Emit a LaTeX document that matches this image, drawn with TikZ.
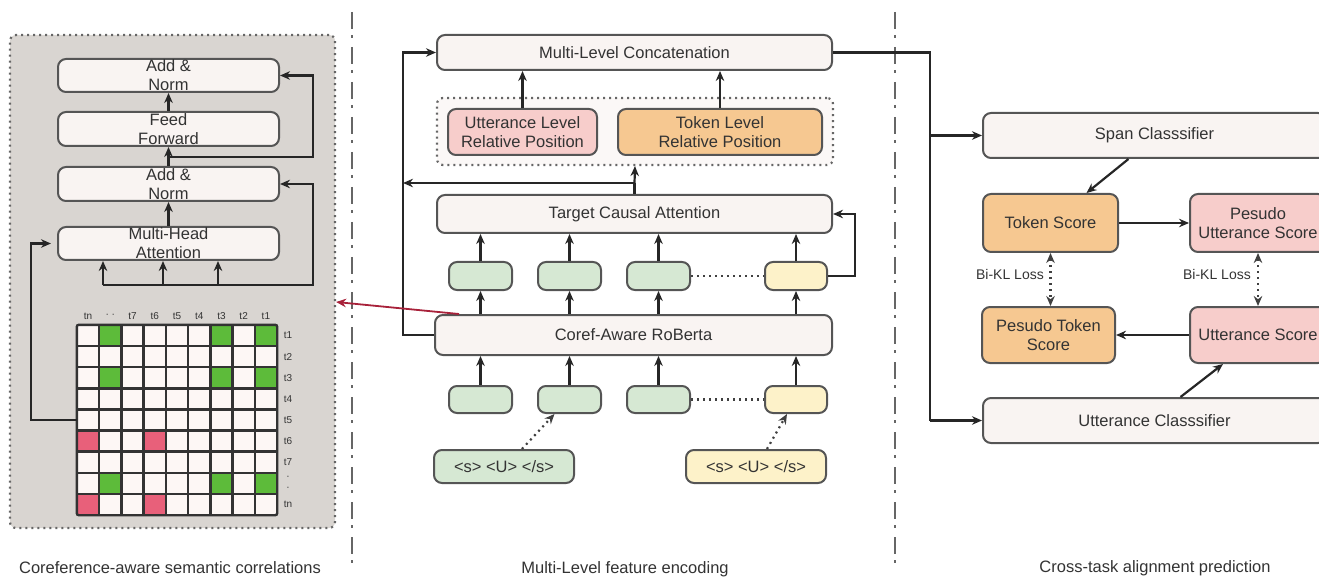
\documentclass[tikz,border=0pt]{standalone}
\usepackage{fontspec}
\setmainfont{Liberation Sans}
\usetikzlibrary{arrows.meta}

\definecolor{boxline}{HTML}{555555}
\definecolor{lightbox}{HTML}{F9F4F2}
\definecolor{panelgray}{HTML}{D9D5D1}
\definecolor{greenbox}{HTML}{D6E8D3}
\definecolor{yellowbox}{HTML}{FDF2C9}
\definecolor{pinkbox}{HTML}{F7CDCB}
\definecolor{orangebox}{HTML}{F6C891}
\definecolor{matgreen}{HTML}{5DBB3A}
\definecolor{matred}{HTML}{E8607A}
\definecolor{cellwhite}{HTML}{FDF7F5}
\definecolor{arrowred}{HTML}{A8213A}

\begin{document}
\begin{tikzpicture}[x=1pt,y=-1pt,
    >={Stealth[length=10pt,width=8.5pt]},
    every node/.style={font=\fontsize{16.5}{19}\selectfont, text=black!80},
    blk/.style={draw=boxline, line width=2pt, rounded corners=8pt, fill=lightbox, align=center, inner sep=0pt},
    panelbox/.style={draw=black!60, line width=2.2pt, dash pattern=on 2pt off 4pt, rounded corners=6pt},
    wire/.style={line width=2.2pt, black!85},
    dotwire/.style={line width=2.2pt, black!75, dash pattern=on 2pt off 4pt},
    gridline/.style={line width=2.4pt, black!80},
    tick/.style={font=\fontsize{10}{11}\selectfont, align=center, inner sep=0pt},
    klnote/.style={font=\fontsize{14}{16}\selectfont, inner sep=2pt},
    sepline/.style={line width=2.8pt, black!60, dash pattern=on 17pt off 6pt on 3pt off 9pt}]
    \useasboundingbox (0,0) rectangle (1319,577);

    % separators
    \draw[sepline] (352,12) -- (352,565);
    \draw[sepline] (895,12) -- (895,565);

    % left panel: coreference-aware correlations
    \node[panelbox, fill=panelgray, minimum width=325, minimum height=493] (panel) at (172.5,281.5) {};
    \node[blk, minimum width=221, minimum height=33] (addnormA) at (168.5,75.5) {Add \&\\Norm};
    \node[blk, minimum width=221, minimum height=34] (feedfwd) at (168.5,129) {Feed\\Forward};
    \node[blk, minimum width=221, minimum height=34] (addnormB) at (168.5,184) {Add \&\\Norm};
    \node[blk, minimum width=221, minimum height=33] (mha) at (168.5,243.5) {Multi-Head\\Attention};
    \draw[wire,->] (mha) -- (addnormB);
    \draw[wire,->] (addnormB) -- (feedfwd);
    \draw[wire,->] (feedfwd) -- (addnormA);
    \coordinate (resA) at (169,157);
    \coordinate (rtA) at (313,75.5);
    \draw[wire,->] (resA) -| (rtA) -- (addnormA.east);
    \coordinate (busL) at (103,285);
    \coordinate (rtB) at (313,184);
    \draw[wire,->] (busL) -| (rtB) -- (addnormB.east);
    \foreach \x in {103,163,218}
        \draw[wire,->] (\x,285) -- (mha.south -| \x,0);

    % correlation matrix
    \node[minimum width=200, minimum height=190, inner sep=0pt] (corrmat) at (177,420) {};
    \fill[cellwhite] (corrmat.north west) rectangle (corrmat.south east);
    \foreach \r/\c in {1/2,1/7,1/9,3/2,3/7,3/9,8/2,8/7,8/9}
        \fill[matgreen] ({77+22.222*(\c-1)},{325+21.111*(\r-1)}) rectangle ++(22.222,21.111);
    \foreach \r/\c in {6/1,6/4,9/1,9/4}
        \fill[matred] ({77+22.222*(\c-1)},{325+21.111*(\r-1)}) rectangle ++(22.222,21.111);
    \foreach \i in {1,...,8} {
        \draw[gridline] ({77+22.222*\i},325) -- ({77+22.222*\i},515);
        \draw[gridline] (77,{325+21.111*\i}) -- (277,{325+21.111*\i});
    }
    \draw[gridline, rounded corners=2pt] (corrmat.north west) rectangle (corrmat.south east);
    \foreach \t [count=\c] in {tn,· ·,t7,t6,t5,t4,t3,t2,t1}
        \node[tick] at ({77+22.222*(\c-0.5)},316) {\t};
    \foreach \t [count=\r] in {t1,t2,t3,t4,t5,t6,t7,{·\\·},tn}
        \node[tick] at (288,{325+21.111*(\r-0.5)}) {\t};
    \coordinate (lfA) at (31,243.5);
    \draw[wire,->] (corrmat.west) -| (lfA) -- ([xshift=-6]mha.west);

    % middle panel: multi-level encoding
    \node[blk, minimum width=395, minimum height=35] (mlc) at (634.5,52.5) {Multi-Level Concatenation};
    \node[panelbox, fill=lightbox!60!white, minimum width=396, minimum height=67] (posgrp) at (635,131.5) {};
    \node[blk, fill=pinkbox, minimum width=149, minimum height=46] (uttpos) at (522.5,132) {Utterance Level\\Relative Position};
    \node[blk, fill=orangebox, minimum width=204, minimum height=46] (tokpos) at (720,132) {Token Level\\Relative Position};
    \draw[wire,->] (uttpos.north) -- (uttpos.north |- mlc.south);
    \draw[wire,->] (tokpos.north) -- (tokpos.north |- mlc.south);
    \node[blk, minimum width=395, minimum height=38] (tca) at (634.5,214) {Target Causal Attention};
    \node[blk, minimum width=397, minimum height=40] (coref) at (633.5,335) {Coref-Aware RoBerta};
    \foreach \n/\x in {ea/480.5,eb/569.5,ec/658.5}
        \node[blk, fill=greenbox, minimum width=63, minimum height=28] (\n) at (\x,276) {};
    \node[blk, fill=yellowbox, minimum width=62, minimum height=28] (ed) at (796,276) {};
    \foreach \n/\x in {fa/480.5,fb/569.5,fc/658.5}
        \node[blk, fill=greenbox, minimum width=63, minimum height=27] (\n) at (\x,399.5) {};
    \node[blk, fill=yellowbox, minimum width=62, minimum height=27] (fd) at (796,399.5) {};
    \draw[dotwire] (ec.east) -- (ed.west);
    \draw[dotwire] (fc.east) -- (fd.west);
    \foreach \n in {ea,eb,ec,ed} {
        \draw[wire,->] (\n.north) -- (\n.north |- tca.south);
        \draw[wire,->] (\n.south |- coref.north) -- (\n.south);
    }
    \foreach \n in {fa,fb,fc,fd}
        \draw[wire,->] (\n.north) -- (\n.north |- coref.south);
    \coordinate (fbT) at (855,214);
    \draw[wire,->] (ed.east) -| (fbT) -- (tca.east);
    \coordinate (tcaJ) at (634.5,183);
    \coordinate (skipT) at (403,52.5);
    \draw[wire] (tca.north) -- (tcaJ);
    \draw[wire,->] (tcaJ) -- (posgrp.south);
    \draw[wire,->] (tcaJ) -- (tcaJ -| skipT);
    \draw[wire,->] (coref.west) -| (skipT) -- (mlc.west);
    \node[blk, fill=greenbox, minimum width=140, minimum height=33] (inA) at (504,466.5) {<s> <U> </s>};
    \node[blk, fill=yellowbox, minimum width=140, minimum height=33] (inB) at (756,466.5) {<s> <U> </s>};
    \draw[dotwire,->] ([xshift=18]inA.north) -- ([xshift=-15]fb.south);
    \draw[dotwire,->] ([xshift=11]inB.north) -- ([xshift=-9]fd.south);
    \draw[arrowred, line width=1.8pt, ->] ([xshift=25]coref.north west) -- (panel.east |- 0,302);

    % right panel: cross-task alignment
    \node[blk, minimum width=343, minimum height=45] (spancls) at (1154.5,135.5) {Span Classsifier};
    \node[blk, fill=orangebox, minimum width=135, minimum height=58] (tokscore) at (1050.5,223) {Token Score};
    \node[blk, fill=pinkbox, minimum width=136, minimum height=58] (psutt) at (1258,223) {Pesudo\\Utterance Score};
    \node[blk, fill=orangebox, minimum width=133, minimum height=56] (pstok) at (1048.5,335) {Pesudo Token\\Score};
    \node[blk, fill=pinkbox, minimum width=136, minimum height=56] (uttscore) at (1258,335) {Utterance Score};
    \node[blk, minimum width=343, minimum height=45] (uttcls) at (1154.5,420.5) {Utterance Classsifier};
    \coordinate (trkB) at (930,420.5);
    \draw[wire] (mlc.east) -| (trkB);
    \draw[wire,->] (trkB) -- (uttcls.west);
    \draw[wire,->] (spancls.west -| trkB) -- (spancls.west);
    \draw[wire,->] ([xshift=-26]spancls.south) -- ([xshift=36]tokscore.north);
    \draw[wire,->] (tokscore.east) -- (psutt.west);
    \draw[wire,->] (uttscore.west) -- (pstok.east);
    \draw[wire,->] ([xshift=26]uttcls.north) -- ([xshift=-35]uttscore.south);
    \draw[dotwire,<->] (tokscore.south) -- (tokscore.south |- pstok.north);
    \draw[dotwire,<->] (psutt.south) -- (psutt.south |- uttscore.north);
    \node[klnote, anchor=east] (klA) at (1046,274) {Bi-KL Loss};
    \node[klnote, anchor=east] (klB) at (1253,274) {Bi-KL Loss};

    % panel titles
    \node (ttlA) at (170,568) {Coreference-aware semantic correlations};
    \node (ttlB) at (625,569) {Multi-Level feature encoding};
    \node (ttlC) at (1155,568) {Cross-task alignment prediction};
\end{tikzpicture}
\end{document}
